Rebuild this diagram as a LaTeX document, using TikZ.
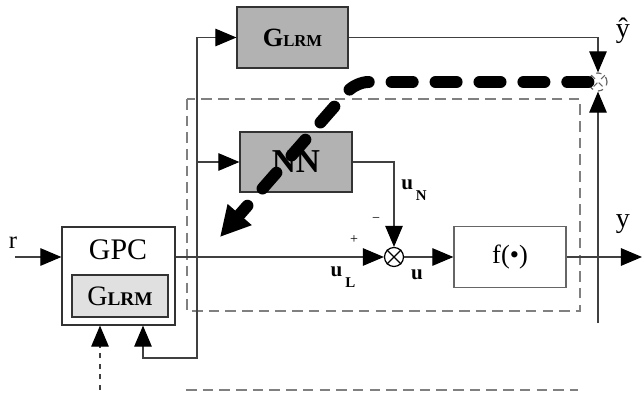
\documentclass[tikz,border=0pt]{standalone}
\usepackage{fontspec}
\setmainfont{Liberation Serif}
\usetikzlibrary{arrows.meta,calc}
\tikzset{
  block/.style={draw=black!80, line width=0.7pt, inner sep=0pt},
  shaded/.style={fill=black!30},
  light/.style={fill=black!12},
  wire/.style={draw=black!75, line width=0.6pt},
  arr/.style={wire, -{Triangle[length=12pt,width=10pt,black]}},
  frame/.style={draw=black!50, line width=0.6pt, dash pattern=on 6pt off 3.5pt},
  sumnode/.style={circle, draw=black, line width=0.7pt, minimum size=0.38cm, inner sep=0pt},
  learn/.style={line width=6.8pt, line cap=round, dash pattern=on 12pt off 13pt,
    rounded corners=7pt, -{Triangle[length=17pt,width=17pt]}},
}
\newcommand{\sig}[2]{{\fontsize{12}{14}\selectfont\bfseries #1}\,\raisebox{-1.3ex}{\fontsize{8.5}{9}\selectfont\bfseries #2}}
\begin{document}
\begin{tikzpicture}[x=0.02cm,y=-0.02cm]
    \useasboundingbox (0,0) rectangle (642,392);
    % outer frame
    \draw[frame] (187,99) rectangle (580,311);
    \draw[frame] (186,390) -- (578,390);
    % blocks
    \node[block, shaded, minimum width=2.22cm, minimum height=1.22cm] (glrm) at (292.5,37.5)
      {\fontsize{15}{16}\selectfont\bfseries G{\fontsize{9.5}{10}\selectfont LRM}};
    \node[block, shaded, minimum width=2.24cm, minimum height=1.2cm] (nn) at (296,162)
      {\fontsize{19}{22}\selectfont\bfseries NN};
    \node[block, minimum width=2.26cm, minimum height=1.96cm] (gpc) at (118.5,276) {};
    \node (gpct) at (118,250) {\fontsize{17}{20}\selectfont GPC};
    \node[block, light, minimum width=1.92cm, minimum height=0.84cm] (gpcm) at (120,296)
      {\fontsize{16}{17}\selectfont G{\fontsize{11}{12}\selectfont\bfseries LRM}};
    \node[block, draw=black!60, minimum width=2.24cm, minimum height=1.22cm] (f) at (510,257)
      {\fontsize{15}{17}\selectfont f(•)};
    \node[sumnode] (sum) at (394,257) {};
    \draw[line width=0.7pt] (sum.45) -- (sum.225) (sum.135) -- (sum.315);
    \node[sumnode, draw=black!60, dashed, minimum size=0.36cm] (cmp) at (598,82) {};
    \draw[black!60, line width=0.6pt, dashed] (cmp.45) -- (cmp.225) (cmp.135) -- (cmp.315);
    % points
    \coordinate (rin) at (15,257);
    \coordinate (br) at (197,257);
    \coordinate (fb) at (197,358);
    \coordinate (gin1) at (100,390);
    \coordinate (yout) at (642,257);
    \coordinate (ylow) at (598,323);
    % signals
    \draw[arr] (rin) -- (gpc.west |- rin);
    \draw[arr] (gpc.east |- rin) -- (sum.west);
    \draw[arr] (br) |- (glrm.west);
    \draw[arr] (br) |- (nn.west);
    \draw[arr] (br) -- (fb) -| ($(gpc.south)+(24.5,0)$);
    \draw[arr, dashed] (gin1) -- ($(gpc.south)+(-18.5,0)$);
    \draw[arr] (nn.east) -| (sum.north);
    \draw[arr] (sum.east) -- (f.west);
    \draw[arr] (f.east) -- (yout);
    \draw[arr] (glrm.east) -| (cmp.north);
    \draw[arr] (ylow) -- (cmp.south);
    % learning path
    \draw[learn] (cmp.west) -- (356,82) -- (220,237);
    % labels
    \node (lr) at (13,243) {\fontsize{14}{16}\selectfont r};
    \node (lyh) at (623,31) {\fontsize{16}{18}\selectfont ŷ};
    \node (ly) at (623,224) {\fontsize{16}{18}\selectfont y};
    \node (lun) at (414,190) {\sig{u}{N}};
    \node (lul) at (343,277) {\sig{u}{L}};
    \node (lu) at (417,275) {\fontsize{12}{14}\selectfont\bfseries u};
    \node (lminus) at (376,220) {\fontsize{8}{9}\selectfont −};
    \node (lplus) at (354,240) {\fontsize{8}{9}\selectfont +};
\end{tikzpicture}
\end{document}
